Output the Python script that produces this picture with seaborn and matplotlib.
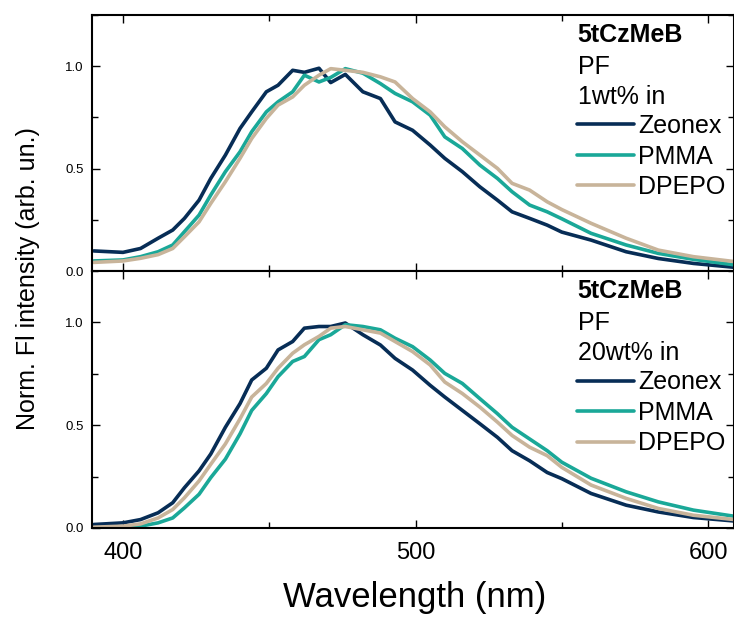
import matplotlib
matplotlib.use("Agg")
import pandas as pd
import matplotlib.pyplot as plt
import seaborn as sns
from matplotlib.ticker import MultipleLocator

# wavelength grid (nm)
wavelength = [390, 400, 406, 412, 417, 421, 426, 430, 435, 440, 444, 449,
              453, 458, 462, 467, 471, 476, 482, 488, 493, 499, 505, 510,
              516, 522, 528, 533, 539, 545, 550, 560, 572, 583, 595, 609]

hosts = ["Zeonex", "PMMA", "DPEPO"]
colors = ["#072d56", "#1aa898", "#c8b49a"]

# 1wt% films
top_zeonex = [0.098, 0.091, 0.11, 0.16, 0.20, 0.257, 0.346, 0.452, 0.566, 0.696, 0.777, 0.875,
              0.907, 0.98, 0.97, 0.99, 0.92, 0.96, 0.875, 0.842, 0.728, 0.687, 0.615, 0.55,
              0.485, 0.411, 0.346, 0.289, 0.257, 0.224, 0.19, 0.151, 0.094, 0.061, 0.037, 0.018]
top_pmma = [0.049, 0.054, 0.07, 0.094, 0.127, 0.192, 0.273, 0.371, 0.485, 0.582, 0.68, 0.777,
            0.826, 0.875, 0.956, 0.923, 0.945, 0.988, 0.966, 0.915, 0.867, 0.826, 0.761, 0.655,
            0.598, 0.517, 0.452, 0.387, 0.322, 0.289, 0.255, 0.184, 0.127, 0.086, 0.057, 0.03]
top_dpepo = [0.042, 0.049, 0.062, 0.08, 0.11, 0.167, 0.24, 0.33, 0.436, 0.55, 0.647, 0.745,
             0.81, 0.85, 0.907, 0.956, 0.988, 0.98, 0.97, 0.948, 0.923, 0.842, 0.777, 0.704,
             0.631, 0.566, 0.501, 0.428, 0.395, 0.338, 0.30, 0.233, 0.16, 0.102, 0.07, 0.046]

# 20wt% films
bot_zeonex = [0.017, 0.025, 0.041, 0.074, 0.123, 0.196, 0.278, 0.36, 0.49, 0.605, 0.72, 0.777,
              0.866, 0.907, 0.972, 0.98, 0.98, 0.997, 0.94, 0.89, 0.825, 0.768, 0.694, 0.637,
              0.572, 0.507, 0.441, 0.376, 0.327, 0.27, 0.24, 0.168, 0.111, 0.078, 0.051, 0.034]
bot_pmma = [0.0, 0.0, 0.009, 0.025, 0.049, 0.098, 0.164, 0.245, 0.335, 0.458, 0.572, 0.654,
            0.736, 0.81, 0.834, 0.916, 0.94, 0.989, 0.98, 0.964, 0.923, 0.882, 0.817, 0.752,
            0.703, 0.629, 0.556, 0.49, 0.433, 0.376, 0.32, 0.242, 0.176, 0.127, 0.087, 0.057]
bot_dpepo = [0.004, 0.009, 0.02, 0.049, 0.09, 0.147, 0.229, 0.31, 0.409, 0.531, 0.637, 0.703,
             0.777, 0.85, 0.891, 0.932, 0.972, 0.98, 0.964, 0.948, 0.907, 0.858, 0.793, 0.71,
             0.654, 0.588, 0.515, 0.45, 0.393, 0.352, 0.295, 0.209, 0.144, 0.095, 0.062, 0.041]


def make_df(series):
    frames = []
    for name, vals in zip(hosts, series):
        frames.append(pd.DataFrame({"wl": wavelength, "I": vals, "host": name}))
    return pd.concat(frames, ignore_index=True)


sns.set_style("ticks")
plt.rcParams['font.family'] = ['Liberation Sans', 'DejaVu Sans']
plt.rcParams['axes.edgecolor'] = 'black'
plt.rcParams['text.color'] = 'black'
plt.rcParams['xtick.color'] = 'black'
plt.rcParams['ytick.color'] = 'black'
plt.rcParams['xtick.labelcolor'] = 'black'
plt.rcParams['ytick.labelcolor'] = 'black'

W, H = 734, 617
fig = plt.figure(figsize=(W / 100, H / 100), dpi=100)
ax1 = fig.add_axes([92 / W, 1 - 271 / H, 641.5 / W, 256 / H])
ax2 = fig.add_axes([92 / W, 1 - 528 / H, 641.5 / W, 257 / H])

panels = [(ax1, [top_zeonex, top_pmma, top_dpepo], "1wt% in"),
          (ax2, [bot_zeonex, bot_pmma, bot_dpepo], "20wt% in")]

for ax, series, conc in panels:
    sns.lineplot(data=make_df(series), x="wl", y="I", hue="host",
                 palette=dict(zip(hosts, colors)), linewidth=2.6, ax=ax)
    ax.set_xlim(389.4, 608.7)
    ax.set_ylim(0, 1.25)
    ax.set_xlabel("")
    ax.set_ylabel("")
    ax.xaxis.set_major_locator(MultipleLocator(100))
    ax.xaxis.set_minor_locator(MultipleLocator(50))
    ax.yaxis.set_major_locator(MultipleLocator(0.5))
    ax.yaxis.set_minor_locator(MultipleLocator(0.25))
    ax.tick_params(which='both', direction='in', top=True, right=True, width=1, color='black')
    ax.tick_params(which='major', length=6)
    ax.tick_params(which='minor', length=4)
    ax.tick_params(axis='y', labelsize=9.5, pad=6)
    ax.tick_params(axis='x', labelsize=17, pad=10)
    for sp in ax.spines.values():
        sp.set_linewidth(1.5)
        sp.set_color('black')

    # header lines of the legend block
    ah = 256.0
    ax.text(0.757, 1 - 27 / ah, "5tCzMeB", fontsize=18, weight='bold',
            va='baseline', transform=ax.transAxes)
    ax.text(0.757, 1 - 59 / ah, "PF", fontsize=18, va='baseline', transform=ax.transAxes)
    ax.text(0.757, 1 - 89 / ah, conc, fontsize=18, va='baseline', transform=ax.transAxes)

    handles, labels = ax.get_legend_handles_labels()
    leg = ax.legend(handles, labels, loc='upper left', bbox_to_anchor=(0.7555, 1 - 99 / ah),
                    frameon=False, fontsize=18, borderpad=0, borderaxespad=0,
                    handlelength=2.3, handletextpad=0.15, labelspacing=0.26)
    for line in leg.get_lines():
        line.set_linewidth(2.6)

ax1.tick_params(axis='x', labelbottom=False)

fig.text(28 / W, 1 - 279 / H, "Norm. Fl intensity (arb. un.)", fontsize=18,
         rotation=90, ha='center', va='center')
fig.text(415 / W, 1 - 597 / H, "Wavelength (nm)", fontsize=25, ha='center', va='center')

fig.savefig("out.png", dpi=100)
